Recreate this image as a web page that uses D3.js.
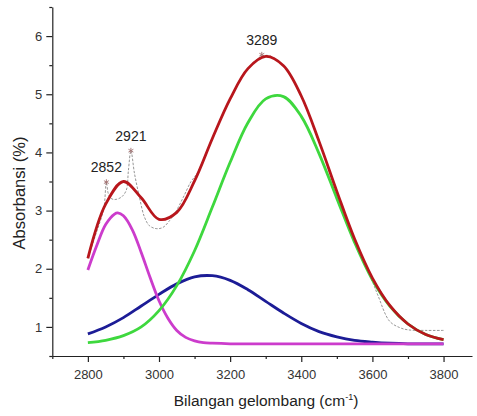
<!DOCTYPE html>
<html>
<head>
<meta charset="utf-8">
<script src="https://cdn.jsdelivr.net/npm/d3@7"></script>
<style>
  body { margin: 0; background: #fff; }
  svg text { font-family: "Liberation Sans", Arial, sans-serif; }
</style>
</head>
<body>
<svg id="chart" width="477" height="416"></svg>
<script>
// wavenumber grids
var waveFine = [2800, 2825, 2850, 2875, 2884, 2900, 2925, 2950, 2975, 3000, 3025, 3050, 3075, 3100, 3125, 3150, 3200, 3300, 3400, 3500, 3600, 3700, 3800];
var wave = [2800, 2850, 2900, 2950, 3000, 3050, 3100, 3150, 3200, 3250, 3300, 3350, 3400, 3450, 3500, 3550, 3600, 3650, 3700, 3750, 3800];

// fitted components
var magenta = [1.98, 2.40, 2.76, 2.94, 2.96, 2.91, 2.67, 2.28, 1.85, 1.45, 1.15, 0.94, 0.82, 0.76, 0.73, 0.72, 0.71, 0.71, 0.71, 0.71, 0.71, 0.71, 0.71];
var blue = [0.88, 1.00, 1.16, 1.36, 1.56, 1.74, 1.86, 1.88, 1.80, 1.64, 1.44, 1.24, 1.06, 0.92, 0.83, 0.77, 0.74, 0.72, 0.71, 0.71, 0.71];
var green = [0.73, 0.77, 0.85, 1.00, 1.28, 1.71, 2.31, 3.06, 3.83, 4.51, 4.92, 4.96, 4.62, 3.98, 3.21, 2.45, 1.81, 1.35, 1.05, 0.87, 0.78];
var red = [2.18, 3.11, 3.50, 3.22, 2.85, 2.97, 3.51, 4.24, 4.92, 5.44, 5.65, 5.49, 4.97, 4.19, 3.33, 2.51, 1.84, 1.36, 1.05, 0.87, 0.78];

// measured spectrum
var specWave = [2800, 2820, 2840, 2846, 2852, 2857, 2863, 2875, 2894, 2908, 2914, 2921, 2931, 2945, 2959, 2973, 2992, 3011, 3030, 3049, 3070, 3090, 3105, 3125, 3150, 3200, 3250, 3300, 3350, 3400, 3450, 3500, 3550, 3600, 3615, 3648, 3676, 3700, 3750, 3800];
var specAbs = [2.18, 2.55, 2.92, 3.08, 3.49, 3.30, 3.22, 3.19, 3.23, 3.35, 3.69, 4.03, 3.64, 3.23, 2.89, 2.74, 2.69, 2.71, 2.83, 3.00, 3.25, 3.50, 3.62, 3.88, 4.24, 4.93, 5.45, 5.67, 5.49, 4.96, 4.18, 3.30, 2.46, 1.78, 1.55, 1.10, 0.99, 0.95, 0.94, 0.94];

// peak labels
var peakWave = [2852, 2921, 3289];
var peakAbs = [3.49, 4.03, 5.68];

var xTicks = [2800, 3000, 3200, 3400, 3600, 3800];
var yTicks = [1, 2, 3, 4, 5, 6];

var svg = d3.select("#chart");

var x = d3.scaleLinear().domain([2700, 3880]).range([52.3, 472]);
var y = d3.scaleLinear().domain([0.5, 6.5]).range([356, 7]);

// axes
var xMinor = d3.range(2700, 3801, 100).filter(function(v){ return xTicks.indexOf(v) < 0; });
var yMinor = d3.range(0.5, 6.51, 1);

svg.append("g")
  .attr("transform", "translate(0,356)")
  .call(d3.axisBottom(x).tickValues(xMinor).tickSize(3).tickFormat(""))
  .call(function(g){ g.select(".domain").remove(); });

var gx = svg.append("g")
  .attr("transform", "translate(0,356)")
  .call(d3.axisBottom(x).tickValues(xTicks).tickSize(6).tickPadding(8).tickSizeOuter(0).tickFormat(d3.format("d")));

svg.append("g")
  .attr("transform", "translate(52.3,0)")
  .call(d3.axisLeft(y).tickValues(yMinor).tickSize(3).tickFormat(""))
  .call(function(g){ g.select(".domain").remove(); });

var gy = svg.append("g")
  .attr("transform", "translate(52.3,0)")
  .call(d3.axisLeft(y).tickValues(yTicks).tickSize(6).tickPadding(4).tickSizeOuter(0).tickFormat(d3.format("d")));

svg.selectAll(".tick line, .domain").attr("stroke", "#222").attr("stroke-width", 1.2);
svg.selectAll(".tick text").attr("fill", "#333").style("font-size", "13px");

// titles
svg.append("text")
  .attr("x", 266).attr("y", 406)
  .attr("text-anchor", "middle")
  .attr("fill", "#222")
  .style("font-size", "15.5px")
  .html('Bilangan gelombang (cm<tspan dy="-6" font-size="9px">-1</tspan><tspan dy="6">)</tspan>');

svg.append("text")
  .attr("transform", "translate(25,193) rotate(-90)")
  .attr("text-anchor", "middle")
  .attr("fill", "#222")
  .style("font-size", "16.5px")
  .text("Absorbansi (%)");

// lines
var line = d3.line()
  .x(function(d){ return x(d[0]); })
  .y(function(d){ return y(d[1]); })
  .curve(d3.curveCatmullRom.alpha(0.5));

function pairs(xs, ys){ return xs.map(function(v, i){ return [v, ys[i]]; }); }

svg.append("path")
  .attr("d", line(pairs(specWave, specAbs)))
  .attr("fill", "none").attr("stroke", "#8a8a8a")
  .attr("stroke-width", 0.9).attr("stroke-dasharray", "2.5,1.5");

// peak markers
svg.selectAll(".star")
  .data(d3.range(peakWave.length))
  .enter().append("path")
  .attr("transform", function(i){ return "translate(" + x(peakWave[i]) + "," + y(peakAbs[i]) + ")"; })
  .attr("d", d3.symbol().type(d3.symbolAsterisk).size(22))
  .attr("fill", "none").attr("stroke", "#a07070").attr("stroke-width", 0.9);

var comps = [
  { xs: wave, ys: blue, color: "#1c1c96" },
  { xs: waveFine, ys: magenta, color: "#cc3ccc" },
  { xs: wave, ys: green, color: "#3ed83e" },
  { xs: wave, ys: red, color: "#b8161c" }
];

comps.forEach(function(c){
  svg.append("path")
    .attr("d", line(pairs(c.xs, c.ys)))
    .attr("fill", "none")
    .attr("stroke", c.color)
    .attr("stroke-width", 2.8)
    .attr("stroke-linejoin", "round");
});

svg.selectAll(".peaklabel")
  .data(d3.range(peakWave.length))
  .enter().append("text")
  .attr("x", function(i){ return x(peakWave[i]); })
  .attr("y", function(i){ return y(peakAbs[i]) - 10; })
  .attr("text-anchor", "middle")
  .attr("fill", "#222")
  .style("font-size", "14px")
  .text(function(i){ return peakWave[i]; });
</script>
</body>
</html>
